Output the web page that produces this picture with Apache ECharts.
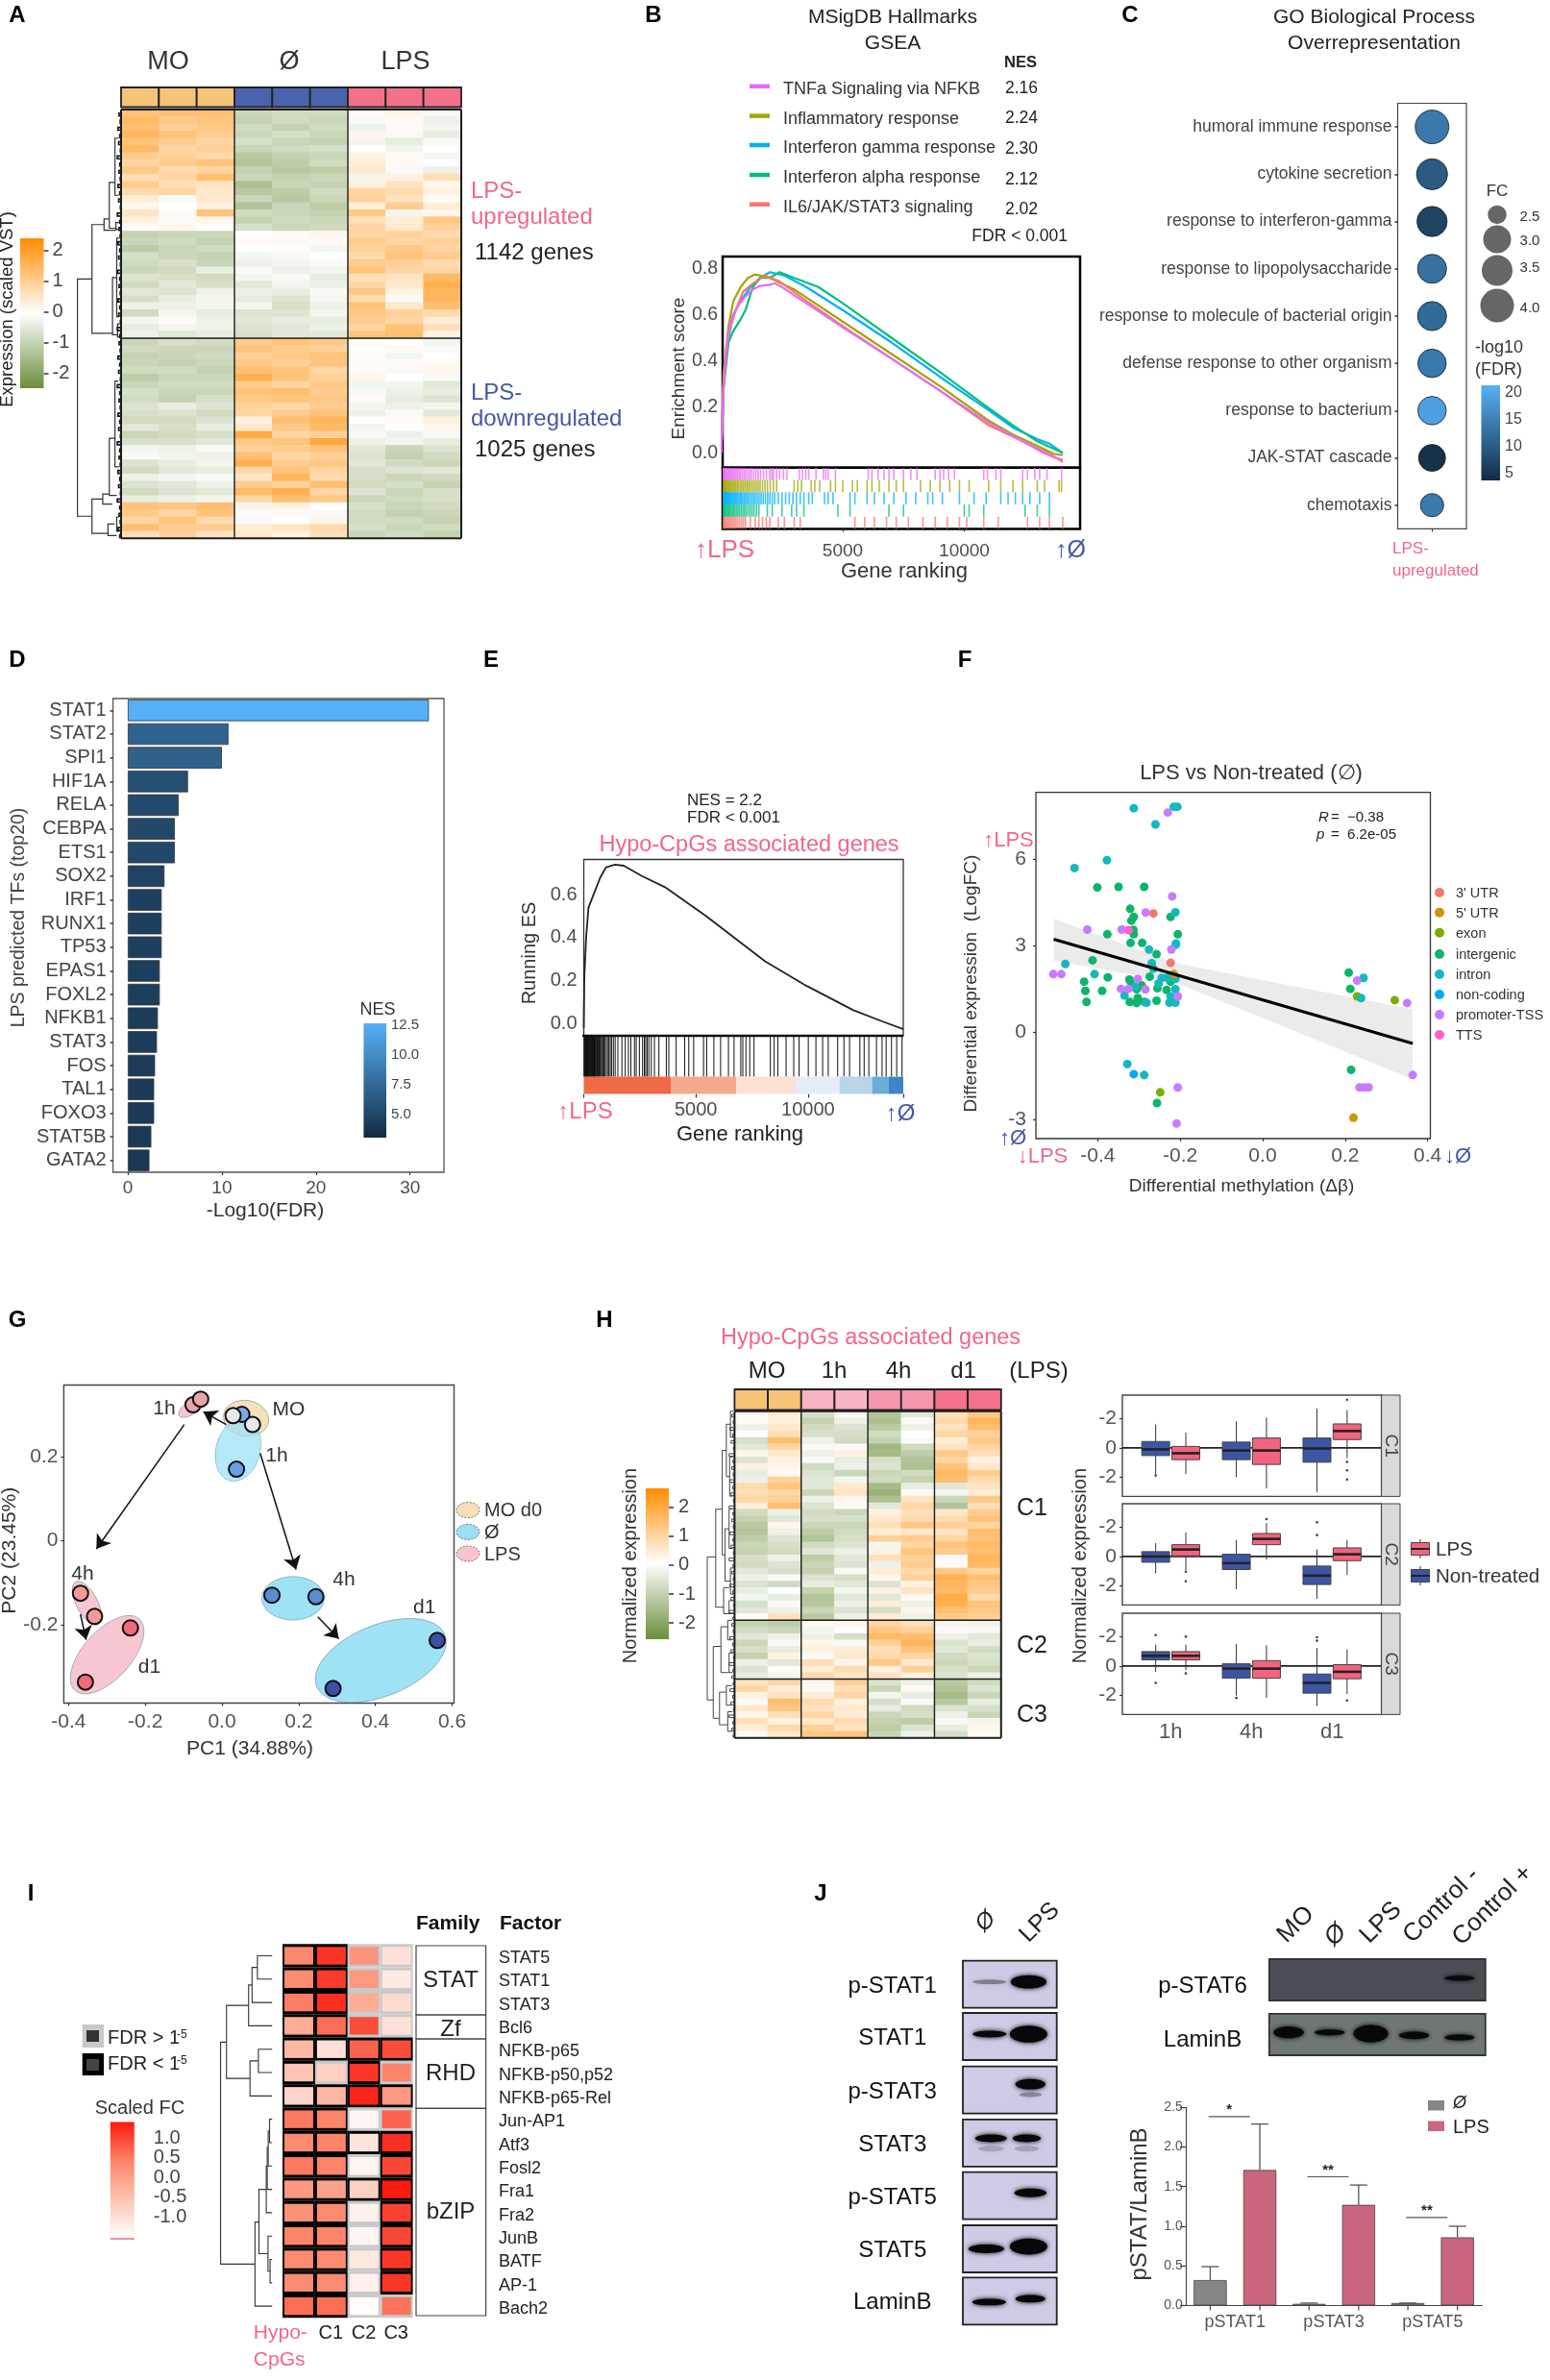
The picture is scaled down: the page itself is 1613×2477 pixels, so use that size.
<!DOCTYPE html>
<html><head><meta charset="utf-8">
<style>html,body{margin:0;padding:0;background:#fff}#c{width:1613px;height:2477px}</style>
<script src="https://cdn.jsdelivr.net/npm/echarts@6/dist/echarts.min.js"></script>
</head><body><div id="c"></div>
<script>
/* ---------- DATA ---------- */
// A: heatmap rows in tenths of scaled VST (MO x3, Ø x3, LPS x3)
const heatA=[
[13,14,14,-9,-8,-8,1,2,-1],[15,12,13,-10,-8,-9,-1,1,-3],[14,10,12,-8,-10,-8,-3,1,-2],[16,13,11,-9,-7,-9,2,-1,-4],
[13,11,9,-7,-9,-10,-2,-4,-1],[15,9,10,-9,-8,-7,0,-2,0],[11,10,8,-12,-10,-9,3,1,-2],[9,11,13,-13,-11,-8,4,1,0],
[12,8,9,-10,-12,-11,5,-1,-3],[7,9,14,-9,-10,-9,-2,3,7],[11,7,6,-14,-9,-10,3,6,2],[8,9,5,-12,-11,-8,9,8,3],
[4,-1,5,-9,-12,-9,10,6,1],[2,0,3,-13,-9,-11,4,11,4],[6,1,13,-8,-9,-10,12,-2,2],[3,-1,2,-10,-8,-9,7,4,12],[1,2,0,-7,-9,-8,9,5,10],
[-10,-9,-9,0,1,2,9,10,8],[-9,-8,-10,1,-1,1,11,9,10],[-11,-9,-8,0,1,-2,10,12,9],[-7,-9,-10,-2,-1,0,8,13,11],
[-8,-7,-9,-3,-2,-1,11,10,8],[-9,-8,-4,-1,-3,-2,13,9,9],[-6,-7,-8,-2,-1,-4,7,6,15],[-8,-5,-7,-5,-2,-3,9,5,17],
[-5,-6,-3,-3,-4,-1,12,3,16],[-7,-4,-2,-4,-6,-2,8,-1,16],[-3,-3,-2,-2,-7,-3,13,5,14],[-8,-2,-4,-6,-6,-2,12,10,8],
[-2,1,-3,-5,-4,-4,11,9,4],[-4,-2,-3,-6,-5,-3,9,13,7],[-3,-5,-4,-7,-5,-5,13,14,3],
[-9,-7,-8,11,13,12,1,0,-2],[-8,-9,-9,13,11,10,0,1,-1],[-10,-9,-8,10,12,13,1,-2,0],[-9,-10,-9,12,10,13,-1,1,1],
[-8,-8,-10,14,13,9,1,-1,2],[-11,-9,-9,17,13,10,2,0,-1],[-9,-8,-8,11,9,12,-2,-2,-5],[-7,-9,-9,13,14,11,-1,-3,-4],
[-8,-10,-7,12,13,12,1,-4,-6],[-6,-4,-6,10,9,11,-2,-3,-2],[-7,-6,-8,9,11,13,-3,-1,-5],[-8,-8,-6,3,14,16,0,1,3],
[-5,-7,-4,5,12,15,-2,0,2],[-9,-8,-7,18,9,10,-1,-3,-1],[-7,-7,-5,12,13,19,-3,-2,-4],[-2,-3,-1,10,11,13,-5,-9,-6],
[-1,-2,-3,14,9,10,-6,-10,-8],[-6,-4,-2,17,11,12,-5,-8,-9],[-8,-5,-4,8,13,9,-7,-6,-5],[-3,-2,-1,6,16,8,-7,-9,-8],
[-6,-5,-3,11,10,14,-8,-7,-10],[-8,-6,-5,15,17,9,-6,-9,-7],[-4,-3,-2,9,14,12,-9,-8,-7],
[13,12,14,-2,3,0,-7,-9,-8],[12,9,13,1,-1,-1,-8,-10,-9],[9,13,8,-1,0,2,-8,-8,-10],[14,11,11,4,6,8,-7,-9,-8],[7,10,6,5,3,7,-9,-8,-10]];
const annotA=['#f5c477','#f5c477','#f5c477','#4a63ad','#4a63ad','#4a63ad','#f3708a','#f3708a','#f3708a'];
const vstTicks=[2,1,0,-1,-2];
// B: curves [rank, ES]
const esTNF=[[0,0],[100,.3],[200,.45],[400,.58],[700,.64],[1000,.68],[1300,.71],[1600,.725],[2000,.73],[2200,.737],[2500,.72],[3500,.65],[5000,.545],[7000,.41],[9000,.27],[11000,.13],[11800,.085],[13200,.003],[13700,-.02],[14050,-.03]];
const esInf=[[0,0],[100,.35],[300,.55],[500,.66],[800,.72],[1100,.76],[1400,.775],[2000,.76],[3000,.71],[5000,.57],[7000,.43],[9000,.29],[11000,.14],[12000,.08],[13000,.03],[13700,-.005],[14050,-.01]];
const esIFg=[[0,0],[100,.3],[300,.5],[500,.6],[800,.66],[1200,.72],[1600,.76],[2000,.785],[2600,.77],[3500,.72],[5000,.62],[7000,.48],[9000,.33],[11000,.185],[12000,.11],[13000,.06],[13500,.04],[14050,.0]];
const esIFa=[[0,0],[100,.28],[300,.48],[500,.53],[800,.58],[1000,.62],[1300,.72],[1600,.76],[2000,.76],[2400,.785],[3000,.76],[4000,.72],[5000,.65],[7000,.5],[9000,.35],[11000,.195],[12000,.12],[13000,.05],[14050,.0]];
const esIL6=[[0,0],[100,.3],[300,.52],[600,.62],[900,.7],[1300,.735],[1800,.77],[2400,.745],[3500,.66],[5000,.55],[7000,.41],[9000,.27],[11000,.12],[12000,.07],[13000,.02],[13600,-.01],[14050,-.04]];
const setNames=['TNFa Signaling via NFKB','Inflammatory response','Interferon gamma response','Interferon alpha response','IL6/JAK/STAT3 signaling'];
const setNES=['2.16','2.24','2.30','2.12','2.02'];
const setColors=['#E76BF3','#A3A500','#00B0F6','#00BF7D','#F8766D'];
const rugTNF=[30,60,90,120,150,180,220,260,300,340,380,420,470,520,570,620,680,740,800,870,940,1010,1090,1170,1250,1340,1430,1520,1620,1740,1860,2000,2080,2150,2280,2400,2560,2700,3220,3350,3480,3600,3900,4200,4300,4400,4700,6050,6200,6450,6700,6900,7100,7500,7800,8050,8800,9000,9150,9350,9600,10800,10950,11300,11500,12400,12600,12900,13100,13400,14000];
const rugInf=[20,50,80,110,140,170,200,240,280,320,360,400,450,500,550,600,660,720,790,850,920,990,1060,1130,1200,1280,1360,1440,1520,1600,1700,1800,1900,2020,2150,2280,3000,3150,3300,3700,3850,4050,4500,4700,5000,5400,5600,6000,6200,6500,6900,7200,7500,8200,8600,9000,9400,9800,10200,11000,11500,12000,12400,13000,13300,13900,14000];
const rugIFg=[15,35,55,75,95,115,135,160,185,210,240,270,300,330,360,390,430,470,510,550,590,630,680,730,780,830,880,940,1000,1060,1120,1190,1260,1330,1400,1480,1560,1640,1730,1820,1910,2000,2100,2200,2350,2500,2650,2800,2950,3100,3250,3400,3600,3750,4250,4400,4600,5300,5500,6000,6300,6700,7100,7600,8000,8500,8700,9100,9800,10400,10900,11500,11800,12100,12400,12700,13100,13500];
const rugIFa=[20,50,80,110,140,170,210,250,290,330,370,420,470,520,570,630,690,750,820,890,960,1030,1110,1190,1270,1350,1450,1550,1900,2100,2500,2900,3100,3400,4800,5300,6900,7500,10000,10200,10800,12500,13000,13500];
const rugIL6=[20,60,100,140,180,230,280,330,380,430,490,550,610,680,760,840,920,1000,1200,1400,1550,1700,1850,2000,2350,2600,3000,3250,5500,5900,6300,6800,7200,7700,8300,8800,9300,9800,10100,10800,11400,12600,13100,13500,14050];
const geneTicks=[5000,10000];
const esTicks=[0,.2,.4,.6,.8];
// C
const goTerms=['humoral immune response','cytokine secretion','response to interferon-gamma','response to lipopolysaccharide','response to molecule of bacterial origin','defense response to other organism','response to bacterium','JAK-STAT cascade','chemotaxis'];
const goFC=[4.0,3.55,3.4,3.2,3.2,3.1,3.1,2.95,2.75];
const goFDR=[14,10,7,13,12,14,19,4.5,14];
const fcLegend=[2.5,3.0,3.5,4.0];
const fdrTicks=[20,15,10,5];
// D
const tfNames=['STAT1','STAT2','SPI1','HIF1A','RELA','CEBPA','ETS1','SOX2','IRF1','RUNX1','TP53','EPAS1','FOXL2','NFKB1','STAT3','FOS','TAL1','FOXO3','STAT5B','GATA2'];
const tfFDR=[32,10.7,10,6.4,5.4,5,5,3.9,3.6,3.6,3.6,3.4,3.4,3.2,3.1,2.9,2.8,2.8,2.5,2.3];
const tfNES=[12.6,7.1,6.9,5.6,5.3,5.2,5.2,4.8,4.6,4.6,4.6,4.5,4.5,4.4,4.4,4.3,4.2,4.2,4.1,4.0];
const nesTicks=[12.5,10,7.5,5];
// E
const esRun=[[0,-.02],[26,.22],[105,.4],[210,.54],[472,.61],[735,.68],[997,.728],[1391,.74],[1785,.735],[2572,.688],[3622,.635],[5459,.5],[8084,.29],[9921,.176],[12021,.062],[13333,.009],[14252,-.026]];
const rugE=[10,30,50,70,90,110,130,150,170,190,210,235,260,285,310,330,350,370,390,410,430,450,470,490,510,540,570,600,630,660,690,720,750,790,830,870,900,930,1000,1060,1120,1180,1240,1320,1400,1520,1700,1850,1990,2100,2260,2340,2480,2620,2700,2760,2830,2900,3010,3150,3350,3680,3790,4120,4500,4680,4900,5340,5480,5800,6100,6450,6700,7000,7090,7230,7400,7590,8320,8490,8650,9020,9360,9600,10010,10350,10650,10900,11320,11600,11850,12310,12500,12710,13050,13300,13480,13720,13950,14190];
const stripEdges=[0,3900,6800,9500,11400,12850,13600,14245];
const stripColors=['#ef6a45','#f4a98d','#fbe0d4','#e6ecf7','#b9d5e8','#6badd6','#3f84c5'];
// F
const mF={"3' UTR":[[-.265,4.12],[-.2233,2.41]],
"5' UTR":[[-.2155,2.02],[.2204,-2.95]],
"exon":[[.2291,1.25],[.3204,1.12],[-.2485,-2.07]],
"intergenic":[[-.401,5.02],[-.3495,5.04],[-.2874,5.04],[-.3214,4.28],[-.3126,4.0],[-.3184,3.87],[-.2233,4.0],[-.3767,3.4],[-.3136,3.55],[-.3126,3.4],[-.3204,3.1],[-.2922,3.1],[-.2058,3.4],[-.2573,2.71],[-.4126,2.5],[-.3757,1.91],[-.433,1.76],[-.43,1.44],[-.3893,1.44],[-.4272,1.06],[-.3233,1.83],[-.32,1.76],[-.2738,1.93],[-.2932,1.63],[-.2553,1.53],[-.3058,1.5],[-.233,1.47],[-.2573,1.1],[-.3223,1.06],[-.3058,1.02],[-.3029,1.19],[-.2864,1.06],[-.2233,1.76],[.2087,2.07],[.2126,1.51],[.2146,-1.29],[-.2563,-2.44]],
"intron":[[-.3126,7.76],[-.2155,7.81],[-.2068,7.81],[-.26,7.2],[-.3777,5.96],[-.4563,5.69],[-.2117,4.16],[-.2107,3.04],[-.21,3.08],[-.2757,2.87],[-.269,2.4],[-.265,2.21],[-.4786,2.37],[-.4078,2.02],[.2447,1.89],[.2388,1.19],[-.3282,-1.09],[-.2874,-1.47],[-.2447,1.89],[-.2117,1.85],[-.2524,1.7],[-.335,1.28],[-.309,1.57],[-.2117,1.5],[-.2233,1.25],[-.2155,1.12],[-.2262,1.03],[-.2117,1.03],[-.2816,1.03],[-.231,1.89]],
"non-coding":[[-.3126,-1.44]],
"promoter-TSS":[[-.2301,7.61],[-.2194,4.71],[-.2835,4.15],[-.4252,3.56],[-.3417,3.56],[-.2214,2.87],[-.5078,2.02],[-.4883,2.02],[-.3029,1.85],[-.3437,1.51],[-.3252,1.51],[-.2845,1.49],[-.2058,1.25],[.2291,1.8],[.3505,1.02],[.3641,-1.47],[.235,-1.9],[.2466,-1.9],[.2573,-1.9],[-.2058,-1.9],[-.2087,-3.15]],
"TTS":[[-.3252,3.54]]};
const annColors=['#F8766D','#CD9600','#7CAE00','#0CB56C','#14B8BF','#00A9FF','#C77CFF','#FF61CC'];
const fitLine=[[-.5068,3.23],[.364,-.38]];
const bandX=[-.5068,-.21,.364], bandUp=[3.93,2.4,.8], bandLo=[2.49,1.72,-1.62];
// G
const ellNames=['MO','Ø 1h','LPS 1h','LPS 4h','LPS d1','Ø 4h','Ø d1'];
const ellCX=[.0627,.0418,-.0786,-.3522,-.2995,.1851,.4139];
const ellCY=[.2916,.2157,.318,-.1488,-.2718,-.1374,-.2855];
const ellA=[.059,.0576,.04,.0627,.1253,.0812,.18];
const ellB=[.0423,.0755,.016,.0252,.0572,.0517,.0847];
const ellRot=[-10,-15,35,-62,48,0,22];
const ellFill=['#f6dfb8','#99e0f5','#f8c3cf','#f8c3cf','#f8c3cf','#99e0f5','#99e0f5'];
const pcaPoints=[[.0517,.3007,'#7ea9e8'],[.0378,.17,'#6a9ee8'],[.0289,.2976,'#e8e8e8'],[.0796,.2764,'#e8e8e8'],[-.0756,.3235,'#e9a6a4'],[-.0557,.337,'#e9a6a4'],[-.369,-.1253,'#f49a96'],[-.3323,-.1807,'#f49a96'],[-.2388,-.208,'#f26a7c'],[-.3562,-.337,'#f26a7c'],[.1303,-.13,'#5b8bd0'],[.2448,-.1336,'#5b8bd0'],[.5612,-.2377,'#3f4fa8'],[.2896,-.3523,'#3f4fa8']];
const pcaArrows=[[[-.0985,.2764],[-.3274,-.0197]],[[.0995,.208],[.193,-.0691]],[[.0109,.2764],[-.0488,.3068]],[[.2498,-.1815],[.3045,-.2339]],[[-.3692,-.1754],[-.3542,-.2361]]];
// H
const heatH=[
[-1,4,-7,-1,-13,-5,7,12],[1,3,-10,-3,-14,-1,8,16],[-3,5,-8,-6,-12,-3,6,14],[0,7,-7,-7,-8,0,9,10],[-7,14,-3,-8,-10,-1,4,12],
[-5,9,-1,-1,-16,-8,6,9],[2,5,-3,3,-15,-11,12,7],[-6,3,-1,-4,-7,-13,9,3],[3,2,-8,-3,-6,-14,13,5],[-4,1,-6,-9,-9,-8,15,11],
[-3,10,-5,-2,-8,-10,14,8],[8,13,-5,5,-15,-4,-5,6],[7,9,-9,6,-17,1,-2,4],[9,10,-3,2,-14,6,-9,12],[4,14,-6,-1,-5,9,-13,7],
[-8,-3,-8,-9,3,7,5,11],[-10,-5,-7,-7,5,8,8,13],[-12,2,-9,-9,7,12,10,9],[-13,-3,-11,-8,4,5,6,14],[-11,-6,-13,-7,10,11,9,13],
[-9,-7,-8,-6,-2,9,13,15],[-10,-8,-5,-3,3,13,11,14],[-7,-3,-11,-5,7,10,-1,16],[-8,-6,-9,-6,-3,11,1,15],[-5,-7,-10,-1,4,8,12,9],
[-3,-1,-6,-7,2,10,17,14],[-6,-8,-4,-5,-6,3,16,12],[-4,0,-10,-2,3,6,15,11],[-2,-4,-13,-5,-5,1,18,8],[-7,1,-12,-3,4,-3,17,13],
[-5,-3,-9,-6,-7,2,14,12],[1,7,-12,-3,4,-3,12,10],
[-10,-11,1,2,9,7,-2,-3],[-8,-9,-2,0,12,10,1,-1],[-5,-3,-3,-7,15,14,-3,-5],[-9,-1,2,-1,10,16,-6,-4],[-7,-4,3,4,7,13,-5,-8],
[-10,3,-1,5,8,9,-8,-6],[-3,-5,7,2,12,5,-9,-7],[-6,1,4,8,3,10,-7,-9],[-4,-2,8,5,6,3,-6,-3],
[6,9,2,10,-6,-3,-12,-8],[9,4,-1,7,-9,1,-13,-6],[3,6,4,9,-2,-4,-15,-9],[-1,14,8,3,-7,-1,-12,-4],[5,12,6,5,-4,-8,-6,-7],
[2,7,9,4,-9,-7,-3,-9],[7,3,5,8,-10,-11,-1,-2],[4,8,10,6,-11,-6,-4,2],[1,5,12,13,-9,-3,-7,1]];
const annotH=['#f5c477','#f5c477','#f9b3c1','#f9b3c1','#f696ab','#f696ab','#f3718a','#f3718a'];
const boxC1=[[-1.8,-.53,-.1,.44,1.6],[-1.8,-.81,-.37,.1,1.05],[-2.02,-.81,-.18,.4,1.82],[-2.79,-1.14,-.18,.68,2.09],[-3.05,-.99,-.04,.68,2.7],[-.7,.57,1.16,1.65,2.6]];
const boxC2=[[-1.16,-.4,0,.33,.92],[-.95,.04,.48,.81,1.65],[-2.26,-.9,-.46,.15,1.14],[-.22,.81,1.21,1.58,2.3],[-2.92,-1.93,-1.32,-.66,.48],[-1.27,-.29,.15,.59,1.14]];
const boxC3=[[-.4,.42,.7,.99,1.47],[-.29,.42,.7,.99,1.47],[-2.04,-.84,-.18,.15,1.52],[-2.2,-.84,-.18,.37,1.43],[-2.75,-1.87,-1.16,-.55,1.25],[-1.93,-.88,-.4,.09,1.14]];
const outC1=[[0,-1.9],[5,3.32],[5,-.97],[5,-1.54],[5,-2.18]];
const outC2=[[1,-1.05],[1,-1.71],[3,2.57],[4,2.35],[4,1.47]];
const outC3=[[0,2.13],[0,-1.16],[1,2.02],[1,-.51],[2,-2.2],[4,1.98],[4,1.74],[5,-2.37]];
const boxPos=[.813,1.187,1.813,2.187,2.813,3.187];
const boxColors=['#3d55a5','#f2637f','#3d55a5','#f2637f','#3d55a5','#f2637f'];
const timeCats=['1h','4h','d1'];
// I
const iFactors=['STAT5','STAT1','STAT3','Bcl6','NFKB-p65','NFKB-p50,p52','NFKB-p65-Rel','Jun-AP1','Atf3','Fosl2','Fra1','Fra2','JunB','BATF','AP-1','Bach2'];
const iFC=[[.45,1.2,.25,-1.0],[.4,1.15,.2,-1.15],[.55,1.25,-.1,-.9],[-.1,.7,1.0,-1.0],[-.3,-1.0,.8,1.0],[-.5,-.7,1.2,.5],[-.8,-.3,1.35,.2],[.6,.5,-1.4,.8],[.4,.5,-1.05,1.25],[.6,.5,-1.35,1.05],[.2,.05,-.7,1.45],[.3,.4,-1.3,1.1],[.5,.5,-1.4,1.05],[.4,.4,-1.15,1.2],[.4,.4,-1.3,1.2],[.7,.7,-1.5,.65]];
const iSig=[[1,1,0,0],[1,1,0,0],[1,1,0,0],[1,1,0,0],[1,1,1,1],[1,0,1,0],[1,1,1,1],[1,1,0,0],[1,1,1,1],[1,1,0,1],[1,1,1,1],[1,1,0,1],[1,1,0,1],[1,1,0,1],[1,1,0,1],[1,1,0,0]];
const iDendro=[[.286,0,1,0,0],[.39,.5,2,.286,0],[.457,1.25,3,.39,0],[.267,4,5,0,0],[.43,4.5,6,.267,0],[.886,2.125,5.25,.457,.43],[.05,7,8,0,0],[.076,7.5,9,.05,0],[.095,8.2,10,.076,0],[.114,9,11,.095,0],[.04,13,14,0,0],[.08,12,13.5,0,.04],[.257,10,12.75,.114,.08],[.333,11.4,15,.257,0],[1,3.7,13.2,.886,.333]];
const fcTicks=[1,.5,0,-.5,-1];
// J
const blotNames=['p-STAT1','STAT1','p-STAT3','STAT3','p-STAT5','STAT5','LaminB'];
const blotTops=[2040.6,2095,2150.6,2205.9,2260.7,2316,2370.4];
const blotBands=[[[.285,.45,.18,.05,.35],[.70,.45,.19,.14,1]],[[.285,.45,.18,.07,1],[.7,.45,.2,.18,1]],[[.72,.38,.16,.11,1],[.72,.6,.12,.05,.3]],[[.3,.4,.17,.08,1],[.68,.4,.15,.08,1],[.3,.62,.14,.06,.18],[.68,.62,.13,.06,.18]],[[.72,.44,.17,.09,1]],[[.25,.5,.19,.09,1],[.7,.45,.2,.17,1]],[[.28,.52,.18,.07,1],[.72,.45,.16,.08,1]]];
const blot6=[[.88,.46,.07,.06,1]];
const blotLam=[[.09,.45,.07,.14,1],[.28,.45,.07,.07,1],[.47,.48,.08,.21,1],[.67,.52,.07,.09,1],[.88,.57,.07,.07,1]];
const pCats=['pSTAT1','pSTAT3','pSTAT5'];
const pNT=[.32,.02,.03], pLPS=[1.71,1.27,.86];
const pNTtop=[.49,.03,.03], pLPStop=[2.29,1.52,1.0];
const sigLevel=[2.384,1.625,1.11], sigText=['*','**','**'];
const pTicks=[0,.5,1,1.5,2,2.5];

/* ---------- helpers ---------- */
const FF='"Liberation Sans"';
const PINK='#f2668a', BLUE='#4458a8', AX='#4d4d4d';
const grids=[],xAxes=[],yAxes=[],series=[],gfx=[],vmaps=[];
function addGrid(l,t,w,h,xa,ya,g){
  const i=grids.length;
  grids.push(Object.assign({left:l,top:t,width:w,height:h,containLabel:false,outerBoundsMode:'none'},g||{}));
  xAxes.push(Object.assign({gridIndex:i,splitLine:{show:false}},xa));
  yAxes.push(Object.assign({gridIndex:i,splitLine:{show:false}},ya));
  return i;
}
function HID(min,max,inv){return {type:'value',min,max,show:false,inverse:!!inv};}
function VAX(min,max,ticks,labels,size,opt){
  opt=opt||{};
  return Object.assign({type:'value',min,max,
    axisLine:{show:false,onZero:false},
    axisTick:{show:opt.tick!==false,customValues:ticks,length:opt.tlen||3,lineStyle:{color:opt.tcolor||'#333',width:1.2}},
    axisLabel:{show:true,customValues:ticks,fontFamily:FF,fontSize:size,color:opt.color||AX,margin:opt.margin||5,
      formatter:v=>{let k=-1,b=1e9;ticks.forEach((t,i)=>{if(Math.abs(t-v)<b){b=Math.abs(t-v);k=i;}});return labels[k];}}},opt.extra||{});
}
function custom(g,n,fn,o){
  series.push(Object.assign({type:'custom',coordinateSystem:'cartesian2d',xAxisIndex:g,yAxisIndex:g,
    data:Array.from({length:n},()=>[0,0]),silent:true,animation:false,z:3,
    renderItem:(p,api)=>fn(p.dataIndex,api,p.coordSys)},o||{}));
}
function T(text,x,y,o){
  o=o||{};
  const sz=o.size||18, dy=o.rot?0:sz*.06;
  gfx.push({type:'text',x,y:y+dy,rotation:(o.rot||0)*Math.PI/180,z:100,silent:true,
    style:{text,font:(o.italic?'italic ':'')+(o.bold?'bold ':'')+sz+'px '+FF,fill:o.color||'#222',
      align:o.align||'center',textAlign:o.align||'center',verticalAlign:'middle',textVerticalAlign:'middle'}});
}
function R(x,y,w,h,fill,stroke,lw){gfx.push({type:'rect',z:50,silent:true,shape:{x,y,width:w,height:h},style:{fill:fill||'none',stroke:stroke||'none',lineWidth:lw||1}});}
function L(x1,y1,x2,y2,c,lw){gfx.push({type:'line',z:50,silent:true,shape:{x1,y1,x2,y2},style:{stroke:c||'#333',lineWidth:lw||1}});}
function hex(c){return [1,3,5].map(i=>parseInt(c.substr(i,2),16));}
function scale(vals,cols){return v=>{
  if(v<=vals[0])return cols[0]; const n=vals.length-1; if(v>=vals[n])return cols[n];
  let i=0; while(v>vals[i+1])i++;
  const t=(v-vals[i])/(vals[i+1]-vals[i]),a=hex(cols[i]),b=hex(cols[i+1]);
  return 'rgb('+a.map((x,k)=>Math.round(x+(b[k]-x)*t)).join(',')+')';};}
function colorbar(l,t,w,h,min,max,grad,ticks,labels,o){
  o=o||{};
  const g=addGrid(l,t,w,h,HID(0,1),Object.assign(VAX(min,max,ticks,labels,o.size||20,{tlen:o.tlen||4,tcolor:o.tcolor||'#333',color:o.color||'#444',margin:o.margin||8,extra:{position:'right'}}),
   {axisTick:{show:true,inside:!!o.inside,customValues:ticks,length:o.tlen||4,lineStyle:{color:o.tcolor||'#333',width:1.5}}}));
  custom(g,1,(i,api,c)=>({type:'rect',shape:{x:c.x,y:c.y,width:c.width,height:c.height},
    style:{fill:new echarts.graphic.LinearGradient(0,0,0,1,grad.map((col,k)=>({offset:k/(grad.length-1),color:col})))}}));
  return g;
}
function heat(l,t,w,h,rows,stops,colBreaks,rowBreaks,lw){
  const nc=rows[0].length,nr=rows.length;
  const g=addGrid(l,t,w,h,{type:'category',show:false,data:rows[0].map((_,i)=>i)},{type:'category',show:false,inverse:true,data:rows.map((_,i)=>i)});
  series.push({type:'heatmap',xAxisIndex:g,yAxisIndex:g,animation:false,silent:true,z:2,data:rows.flatMap((r,i)=>r.map((v,j)=>[j,i,v/10]))});
  vmaps.push({show:false,seriesIndex:series.length-1,min:-2.5,max:2.5,inRange:{color:stops}});
  const f=addGrid(l,t,w,h,HID(0,nc),HID(0,nr,true));
  const br=colBreaks.map(v=>[v,0,v,nr]).concat(rowBreaks.map(v=>[0,v,nc,v])).concat([[0,0,nc,0],[0,nr,nc,nr],[0,0,0,nr],[nc,0,nc,nr]]);
  custom(f,br.length,(i,api)=>{const d=br[i],a=api.coord([d[0],d[1]]),b=api.coord([d[2],d[3]]);
    return {type:'line',shape:{x1:a[0],y1:a[1],x2:b[0],y2:b[1]},style:{stroke:'#1c1c1c',lineWidth:i>=br.length-4?2:lw||1.4}};},{z:5});
}
function annot(l,t,w,h,cols){
  const g=addGrid(l,t,w,h,HID(0,cols.length),HID(0,1));
  custom(g,cols.length,(i,api)=>{const a=api.coord([i,1]),b=api.coord([i+1,0]);
    return {type:'rect',shape:{x:a[0],y:a[1],width:b[0]-a[0],height:b[1]-a[1]},style:{fill:cols[i],stroke:'#222',lineWidth:1.8}};});
}
function dendro(l,t,w,h,ymax,merges,lw,color){
  const g=addGrid(l,t,w,h,{type:'value',min:0,max:1,show:false,inverse:true},HID(0,ymax,true));
  custom(g,merges.length,(i,api)=>{const d=merges[i];
    const p=[[d[3],d[1]],[d[0],d[1]],[d[0],d[2]],[d[4],d[2]]].map(q=>api.coord(q));
    return {type:'polyline',shape:{points:p},style:{fill:'none',stroke:color||'#333',lineWidth:lw||1}};});
}
function blot(l,t,w,h,bg,bands,border){
  const g=addGrid(l,t,w,h,HID(0,1),HID(0,1,true));
  custom(g,bands.length+1,(i,api,c)=>{
    if(i===0)return {type:'rect',shape:{x:c.x,y:c.y,width:c.width,height:c.height},style:{fill:bg}};
    const d=bands[i-1],p=api.coord([d[0],d[1]]),s=api.size([d[2],d[3]]);
    return {type:'ellipse',shape:{cx:p[0],cy:p[1],rx:s[0],ry:s[1]},style:{fill:'rgba(8,8,10,'+d[4]+')',shadowBlur:5,shadowColor:'rgba(0,0,0,'+d[4]+')'}};
  },{clip:true});
  R(l,t,w,h,null,border||'#222',1.8);
}
const vstGrad=['#ff8c00','#ffffff','#6b8e3a'];
const vstStops=['#6b8e3a','#ffffff','#ff8c00'];

/* ---------- panel letters ---------- */
[['A',18,15],['B',680,15],['C',1176,15],['D',18,686],['E',511,686],['F',1004,686],['G',18,1373],['H',629,1373],['I',32,1970],['J',854,1970]]
 .forEach(a=>T(a[0],a[1],a[2],{size:24,bold:true,color:'#000'}));

/* ---------- A ---------- */
annot(126,91,354,20.5,annotA);
heat(126,114,354,446.3,heatA,vstStops,[3,6],[32],1.4);
colorbar(21,248,24.5,156,-2.47,2.4,vstGrad,vstTicks,vstTicks.map(String),{size:20,margin:9,tlen:5});
T('Expression (scaled VST)',8,322,{rot:90,size:18.5});
T('MO',175,63,{size:27,color:'#333'});T('Ø',301,63,{size:27,color:'#333'});T('LPS',422,63,{size:27,color:'#333'});
T('LPS-',490,198,{size:24,color:PINK,align:'left'});T('upregulated',490,225,{size:24,color:PINK,align:'left'});
T('1142 genes',494,262,{size:24,align:'left'});
T('LPS-',490,408,{size:24,color:BLUE,align:'left'});T('downregulated',490,435,{size:24,color:BLUE,align:'left'});
T('1025 genes',494,467,{size:24,align:'left'});
const dendA=[[1,23.7,56.9,.667,.667],[.667,16.1,31.3,.39,.196],[.667,54.5,59.3,.42,.3],[.39,15.3,16.9,.27,.12],[.27,10.2,16.6,.14,.1],[.14,4,12,.05,.05],[.196,23.5,31.5,.1,.08],[.1,18,29,.04,.05],[.42,53.8,55.2,.27,.2],[.27,46,54,.14,.1],[.14,38,50,.06,.05],[.3,58,59.6,.15,.1],[.12,15.8,16.8,.05,.04],[.08,30,31.8,.03,.03],[.1,57,59,.04,.04]];
dendro(80.6,114,45.4,446.3,60,dendA,1.2,'#333');
const combA=[];
for(let r=0;r<60;r++)combA.push([[.045,.02,.07,.03,.055,.015,.085,.03][r%8],r+.5,r+.9,0,0]);
dendro(80.6,114,45.4,446.3,60,combA,1.6,'#111');

/* ---------- B ---------- */
T('MSigDB Hallmarks',929,17,{size:21});T('GSEA',929,43.5,{size:21});
T('NES',1062,64,{size:16.5,bold:true});
[89.8,120.6,151,182,212.7].forEach((y,i)=>{
  L(780,y,801,y,setColors[i],4.5);
  T(setNames[i],815,y+2,{size:18,align:'left',color:'#333'});
  T(setNES[i],1063,y+1+i*.9,{size:17.5,color:'#222'});
});
T('FDR < 0.001',1111,245,{size:17.5,align:'right'});
const gB=addGrid(752,267,372,219.8,HID(59,14763),VAX(-.0647,.8526,esTicks,['0.0','0.2','0.4','0.6','0.8'],19.5,{tick:false,margin:5}),{show:true,borderColor:'#000',borderWidth:2.5});
[esTNF,esInf,esIFg,esIFa,esIL6].forEach((d,i)=>series.push({type:'line',xAxisIndex:gB,yAxisIndex:gB,data:d,showSymbol:false,smooth:false,animation:false,silent:true,z:[5,3,2,2,4][i],clip:false,lineStyle:{color:setColors[i],width:2.2}}));
const gBr=addGrid(752,486.8,372,63.6,VAX(59,14763,geneTicks,['5000','10000'],19,{tlen:3,margin:14}),HID(0,5,true),{show:true,borderColor:'#000',borderWidth:2.5});
[rugTNF,rugInf,rugIFg,rugIFa,rugIL6].forEach((arr,row)=>custom(gBr,arr.length,(i,api)=>{
  const a=api.coord([arr[i],row]),b=api.coord([arr[i],row+1]);
  return {type:'line',shape:{x1:a[0],y1:a[1],x2:b[0],y2:b[1]},style:{stroke:setColors[row],lineWidth:1.6,opacity:.75}};},{clip:true}));
T('↑LPS',754,571,{size:26,color:PINK});T('↑Ø',1114,572,{size:25,color:BLUE});
T('Gene ranking',941,594,{size:22,color:'#333'});
T('Enrichment score',707,383.5,{size:19,rot:90,color:'#333'});

/* ---------- C ---------- */
T('GO Biological Process',1430,17,{size:21});T('Overrepresentation',1430,43.5,{size:21});
const fdrCol=scale([3.75,21.4],['#132B43','#56B1F7']);
const sizeOf=v=>{const xs=fcLegend,ys=[19.5,29,32,35];if(v<=xs[0])return ys[0];for(let i=0;i<3;i++)if(v<=xs[i+1])return ys[i]+(ys[i+1]-ys[i])*(v-xs[i])/(xs[i+1]-xs[i]);return ys[3];};
const gC=addGrid(1454.5,107.5,71.5,442.9,
 {type:'category',data:['LPS-upregulated'],axisLine:{show:false,onZero:false},axisTick:{show:true,alignWithLabel:true,length:3,lineStyle:{color:'#333'}},axisLabel:{show:false}},
 {type:'category',data:goTerms,inverse:true,axisLine:{show:false,onZero:false},axisTick:{show:true,alignWithLabel:true,length:3,lineStyle:{color:'#333',width:1.5}},axisLabel:{interval:0,fontFamily:FF,fontSize:17.5,color:'#444',margin:6}},
 {show:true,borderColor:'#444',borderWidth:1.2});
series.push({type:'scatter',xAxisIndex:gC,yAxisIndex:gC,animation:false,silent:true,z:3,
 data:goTerms.map((t,i)=>({value:['LPS-upregulated',t],symbolSize:sizeOf(goFC[i]),itemStyle:{color:fdrCol(goFDR[i]),borderColor:'#1a1a1a',borderWidth:.8,opacity:1}}))});
T('LPS-',1449,570.6,{size:17,color:PINK,align:'left'});T('upregulated',1449,593,{size:17,color:PINK,align:'left'});
T('FC',1558,198,{size:17,color:'#333'});
const gFC=addGrid(1535,210,46,125,HID(0,1),{type:'value',min:0,max:125,show:false,inverse:true});
const fcLegY=[13.4,39,71.5,108];
custom(gFC,4,(i,api)=>{const p=api.coord([.5,fcLegY[i]]);return {type:'circle',shape:{cx:p[0],cy:p[1],r:sizeOf(fcLegend[i])/2},style:{fill:'#666'}};});
[225,250,278,319.5].forEach((y,i)=>T(fcLegend[i].toFixed(1),1592,y,{size:15,color:'#333'}));
T('-log10',1535,360.6,{size:18,align:'left',color:'#333'});T('(FDR)',1535,383.5,{size:18,align:'left',color:'#333'});
colorbar(1541.5,401,19.5,99,3.75,21.4,['#56B1F7','#132B43'],fdrTicks,fdrTicks.map(String),{size:16,inside:true,tcolor:'#fff',tlen:4,margin:5});

/* ---------- D ---------- */
const nesCol=scale([3.06,12.66],['#132B43','#56B1F7']);
const gD=addGrid(117.6,727,344.4,493,
 VAX(-1.57,33.6,[0,10,20,30],['0','10','20','30'],19,{tlen:3,margin:7,extra:{}}),
 {type:'category',data:tfNames,inverse:true,axisLine:{show:false,onZero:false},axisTick:{show:true,alignWithLabel:true,interval:0,length:3,lineStyle:{color:'#333',width:1.5}},axisLabel:{interval:0,fontFamily:FF,fontSize:20,color:'#444',margin:7}},
 {show:true,borderColor:'#555',borderWidth:1.3});
series.push({type:'bar',xAxisIndex:gD,yAxisIndex:gD,barWidth:22.5,animation:false,silent:true,
 data:tfFDR.map((v,i)=>({value:v,itemStyle:{color:nesCol(tfNES[i]),borderColor:'#333',borderWidth:.8}}))});
T('LPS predicted TFs (top20)',20,955,{rot:90,size:19.5,color:'#444'});
T('-Log10(FDR)',276,1259,{size:21,color:'#333'});
T('NES',393,1049.5,{size:18,color:'#333'});
colorbar(378.4,1065,23.6,119,3.06,12.66,['#56B1F7','#132B43'],nesTicks,['12.5','10.0','7.5','5.0'],{size:15,inside:true,tcolor:'#fff',tlen:4,margin:5});

/* ---------- E ---------- */
T('NES = 2.2',715,832,{size:17,align:'left'});T('FDR < 0.001',715,850,{size:17,align:'left'});
T('Hypo-CpGs associated genes',779.5,878,{size:23.5,color:PINK});
const gE=addGrid(607.5,894.5,332.5,183.5,HID(0,14245),VAX(-.057,.764,[0,.2,.4,.6],['0.0','0.2','0.4','0.6'],20,{tick:false,margin:7}),{show:true,borderColor:'#333',borderWidth:1.3});
series.push({type:'line',xAxisIndex:gE,yAxisIndex:gE,data:esRun,showSymbol:false,animation:false,silent:true,lineStyle:{color:'#222',width:1.8}});
const gEr=addGrid(607.5,1078,332.5,60.5,VAX(0,14245,[0,5000,10000,14245],['','5000','10000',''],20,{tlen:4,margin:7}),HID(0,1));
custom(gEr,rugE.length,(i,api)=>{const a=api.coord([rugE[i],.296]),b=api.coord([rugE[i],1]);
  return {type:'line',shape:{x1:a[0],y1:a[1],x2:b[0],y2:b[1]},style:{stroke:'#111',lineWidth:1}};});
custom(gEr,stripColors.length,(i,api)=>{const a=api.coord([stripEdges[i],.296]),b=api.coord([stripEdges[i+1],0]);
  return {type:'rect',shape:{x:a[0],y:a[1],width:b[0]-a[0],height:b[1]-a[1]},style:{fill:stripColors[i]}};});
L(606,1078,940,1078,'#111',2.5);
T('Running ES',551,992,{rot:90,size:20,color:'#333'});
T('↑LPS',609,1156,{size:24,color:PINK});T('↑Ø',937,1158,{size:24,color:BLUE});
T('Gene ranking',770,1180,{size:22,color:'#222'});

/* ---------- F ---------- */
T('LPS vs Non-treated (∅)',1302,803.5,{size:22,color:'#333'});
const gF=addGrid(1078,824.6,410.5,360.4,
 VAX(-.55,.4068,[-.4,-.2,0,.2,.4],['-0.4','-0.2','0.0','0.2','0.4'],21,{tlen:3,margin:8,color:'#555'}),
 VAX(-3.67,8.31,[-3,0,3,6],['-3','0','3','6'],21,{tlen:3,margin:10,color:'#555'}),
 {show:true,borderColor:'#333',borderWidth:1.3});
custom(gF,1,(i,api)=>{const up=bandX.map((x,k)=>api.coord([x,bandUp[k]])),lo=bandX.map((x,k)=>api.coord([x,bandLo[k]])).reverse();
  return {type:'polygon',shape:{points:up.concat(lo)},style:{fill:'#ebebeb'}};},{z:1});
Object.keys(mF).forEach((k,i)=>series.push({type:'scatter',name:k,xAxisIndex:gF,yAxisIndex:gF,data:mF[k],symbolSize:9,animation:false,silent:true,z:[3,6,3,3,3,3,3,3][i],itemStyle:{color:annColors[i],opacity:1}}));
series.push({type:'line',xAxisIndex:gF,yAxisIndex:gF,data:fitLine,showSymbol:false,animation:false,silent:true,z:7,lineStyle:{color:'#000',width:3.2}});
T('R',1372,850,{size:15,italic:true,align:'left'});T('=  −0.38',1385,850,{size:15,align:'left'});
T('p',1370,868,{size:15,italic:true,align:'left'});T('=  6.2e-05',1385,868,{size:15,align:'left'});
const gFl=addGrid(1490,919,16,170,HID(0,1),HID(0,170,true));
const annY=[10,30.7,51.8,74,95,116,137,158];
custom(gFl,8,(i,api)=>{const p=api.coord([.5,annY[i]]);return {type:'circle',shape:{cx:p[0],cy:p[1],r:5},style:{fill:annColors[i]}};});
Object.keys(mF).forEach((k,i)=>T(k,1515,919+annY[i],{size:14.5,align:'left',color:'#333'}));
T('↑LPS',1049.5,874,{size:22,color:PINK});T('↑Ø',1054,1184,{size:22,color:BLUE});
T('↓LPS',1085,1203,{size:22,color:PINK});T('↓Ø',1517,1203,{size:22,color:BLUE});
T('Differential methylation (Δβ)',1292,1234,{size:19,color:'#333'});
T('Differential expression  (LogFC)',1011,1023.6,{rot:90,size:19,color:'#333'});

/* ---------- G ---------- */
const gG=addGrid(66.4,1441.5,406.1,331,
 VAX(-.4125,.605,[-.4,-.2,0,.2,.4,.6],['-0.4','-0.2','0.0','0.2','0.4','0.6'],21,{tlen:3,margin:9,color:'#555'}),
 VAX(-.387,.3705,[-.2,0,.2],['-0.2','0','0.2'],21,{tlen:3,margin:6,color:'#555'}),
 {show:true,borderColor:'#444',borderWidth:1.4});
custom(gG,ellCX.length,(i,api)=>{const p=api.coord([ellCX[i],ellCY[i]]),s=api.size([ellA[i],ellB[i]]);
  return {type:'ellipse',shape:{cx:p[0],cy:p[1],rx:s[0],ry:s[1]},rotation:ellRot[i]*Math.PI/180,originX:p[0],originY:p[1],
    style:{fill:ellFill[i],stroke:'#7a9aa5',lineWidth:.7,opacity:i==1?.72:.95}};},{clip:true,z:1});
series.push({type:'lines',coordinateSystem:'cartesian2d',xAxisIndex:gG,yAxisIndex:gG,animation:false,silent:true,z:3,
 symbol:['none','arrow'],symbolSize:[0,14],lineStyle:{color:'#111',width:1.5,opacity:1,curveness:0},data:pcaArrows.map(c=>({coords:c}))});
series.push({type:'scatter',xAxisIndex:gG,yAxisIndex:gG,animation:false,silent:true,z:4,symbolSize:16,
 data:pcaPoints.map(p=>({value:[p[0],p[1]],itemStyle:{color:p[2],borderColor:'#111',borderWidth:2,opacity:1}}))});
[['1h',171,1465],['MO',300.5,1466],['1h',288,1514],['4h',86,1637],['4h',358,1642.5],['d1',441.7,1672],['d1',155.4,1734]].forEach(a=>T(a[0],a[1],a[2],{size:21,color:'#333'}));
[[1571.6,'#f6dfb8','MO d0'],[1594.4,'#99e0f5','Ø'],[1617,'#f8c3cf','LPS']].forEach(a=>{
  gfx.push({type:'ellipse',z:50,silent:true,shape:{cx:487,cy:a[0],rx:12,ry:8},style:{fill:a[1],stroke:'#555',lineWidth:.8,lineDash:[2,1.5]}});
  T(a[2],504,a[0],{size:20,align:'left',color:'#333'});});
T('PC1 (34.88%)',260,1818.7,{size:21,color:'#333'});
T('PC2 (23.45%)',10,1613.7,{rot:90,size:21,color:'#333'});

/* ---------- H ---------- */
T('Hypo-CpGs associated genes',906,1391.5,{size:23.5,color:PINK});
[['MO',798],['1h',868],['4h',935],['d1',1002.5],['(LPS)',1081]].forEach(a=>T(a[0],a[1],1426,{size:24,color:'#222'}));
annot(764.4,1446,277.4,21.4,annotH);
heat(764.4,1468.7,277.4,340,heatH,vstStops,[2,4,6],[32,41],1.4);
colorbar(672,1549,24,157,-2.56,2.65,vstGrad,vstTicks,vstTicks.map(String),{size:20,margin:10,tlen:5});
T('Normalized expression',656.7,1629.6,{rot:90,size:20,color:'#333'});
T('C1',1058,1569,{size:25,align:'left',color:'#222'});T('C2',1058,1712,{size:25,align:'left',color:'#222'});T('C3',1058,1783.5,{size:25,align:'left',color:'#222'});
const dendH=[[1,22.3,44.2,.69,.78],[.69,15,30,.45,.4],[.45,6,22,.3,.35],[.3,2,10,.15,.18],[.35,18,26,.2,.15],[.4,27,31,.2,.1],[.15,0,4,.05,.05],[.18,7,13,.07,.06],[.2,15,21,.08,.07],[.15,24,28,.06,.05],[.2,29,31,.05,.04],[.78,36,47,.5,.55],[.5,33,40,.25,.2],[.55,43,48,.3,.25],[.25,32,35,.08,.1],[.2,37,40,.06,.07],[.3,42,45,.1,.1],[.25,46,49,.08,.07]];
dendro(736,1468.7,28.4,340,50,dendH,1,'#444');
const combH=[];for(let r=0;r<50;r++)combH.push([[.1,.05,.17,.07,.13,.04,.2,.06][r%8],r+.5,r+.9,0,0]);
dendro(736,1468.7,28.4,340,50,combH,1,'#444');
[[1452,boxC1,outC1,'C1'],[1565,boxC2,outC2,'C2'],[1679,boxC3,outC3,'C3']].forEach((f,fi)=>{
  const g=addGrid(1168,f[0],269.6,105.4,
    fi==2?VAX(.4,3.613,[1,2,3],timeCats,22,{tick:false,margin:8,color:'#555'}):HID(.4,3.613),
    VAX(-3.34,3.63,[-2,0,2],['-2','0','-2'],21,{tlen:3,margin:6,color:'#555'}),
    {show:true,borderColor:'#444',borderWidth:1.4});
  custom(g,1,(i,api)=>{const a=api.coord([.4,0]),b=api.coord([3.613,0]);return {type:'line',shape:{x1:a[0],y1:a[1],x2:b[0],y2:b[1]},style:{stroke:'#222',lineWidth:1.6}};},{z:2});
  custom(g,6,(i,api)=>{const d=f[1][i],x=boxPos[i],pos=v=>api.coord([x,v]),W=14.5;
    const mn=pos(d[0]),q1=pos(d[1]),md=pos(d[2]),q3=pos(d[3]),mx=pos(d[4]);
    return {type:'group',children:[
      {type:'line',shape:{x1:mn[0],y1:mn[1],x2:mx[0],y2:mx[1]},style:{stroke:'#333',lineWidth:1}},
      {type:'rect',shape:{x:mn[0]-W,y:q3[1],width:2*W,height:q1[1]-q3[1]},style:{fill:boxColors[i],stroke:'#444',lineWidth:1}},
      {type:'line',shape:{x1:mn[0]-W,y1:md[1],x2:mn[0]+W,y2:md[1]},style:{stroke:'#222',lineWidth:2.6}}]};},{z:4});
  series.push({type:'scatter',xAxisIndex:g,yAxisIndex:g,animation:false,silent:true,z:4,symbolSize:2.6,itemStyle:{color:'#111'},data:f[2].map(o=>[boxPos[o[0]],o[1]])});
  R(1437.6,f[0],19.4,105.4,'#d9d9d9','#444',1);
  T(f[3],1447.3,f[0]+52.7,{rot:-90,size:19,color:'#444'});
});
T('Normalized expression',1124.8,1629.6,{rot:90,size:20,color:'#333'});
[[1612,'#f2637f','LPS'],[1640,'#3d55a5','Non-treated']].forEach(a=>{
  L(1478,a[0]-10,1478,a[0]+10,'#333',1);R(1468.5,a[0]-6.5,19,13,a[1],'#444',1);L(1468.5,a[0],1487.5,a[0],'#222',2);
  T(a[2],1494,a[0],{size:20.5,align:'left',color:'#333'});});

/* ---------- I ---------- */
T('Family',433,2001,{size:21,bold:true,align:'left',color:'#111'});T('Factor',520,2001,{size:21,bold:true,align:'left',color:'#111'});
const fcCol=scale([-1.56,-.5,.5,1.45],['#ffffff','#fcc5b3','#fb8469','#fb1a10']);
const gI=addGrid(294,2023.3,135.6,389,HID(-.5,3.5),HID(-.5,15.5,true));
const cellIdx=[];iFC.forEach((r,i)=>r.forEach((v,j)=>cellIdx.push([i,j])));
custom(gI,cellIdx.length,(k,api)=>{const [i,j]=cellIdx[k],p=api.coord([j,i]),s=api.size([1,1]);
  return {type:'rect',shape:{x:p[0]-s[0]/2,y:p[1]-s[1]/2,width:s[0],height:s[1]},style:{fill:iSig[i][j]?'#000':'#c9c9c9'}};},{z:2});
custom(gI,cellIdx.length,(k,api)=>{const [i,j]=cellIdx[k],p=api.coord([j,i]);
  return {type:'rect',shape:{x:p[0]-15,y:p[1]-9.2,width:30,height:18.4},style:{fill:fcCol(iFC[i][j])}};},{z:3});
dendro(229.6,2023.3,53.6,389,16,iDendro.map(d=>[d[0],d[1]+.5,d[2]+.5,d[3],d[4]]),1.1,'#333');
[[2025,72,'STAT',2060,24],[2097,25,'Zf',2111,24],[2122,72.4,'RHD',2157,24],[2194.4,215.6,'bZIP',2301,24]].forEach(a=>{R(433,a[0],72.6,a[1],null,'#444',1.2);T(a[2],469,a[3],{size:a[4],color:'#222'});});
iFactors.forEach((f,i)=>T(f,519,2037+i*24.34,{size:18,align:'left',color:'#222'}));
R(85.7,2107,22.3,24,'#c9c9c9');R(90,2113,13,12,'#333');
R(85.7,2137,22.3,23,'#000');R(90,2143,13,12,'#444');
T('FDR > 1',112,2120,{size:20,align:'left'});T('-5',184,2117,{size:12,align:'left'});
T('FDR < 1',112,2147,{size:20,align:'left'});T('-5',184,2144,{size:12,align:'left'});
T('Scaled FC',145.4,2193.7,{size:20,color:'#333'});
colorbar(114.8,2208.4,25,121.6,-1.56,1.42,['#fb1a10','#fb8469','#fcc5b3','#ffffff'],fcTicks,['1.0','0.5','0.0','-0.5','-1.0'],{size:20,inside:true,tcolor:'#fff',tlen:4,margin:20});
L(114.8,2330,139.8,2330,'#f2668a',1.5);
T('C1',344.4,2427,{size:20});T('C2',378.6,2427,{size:20});T('C3',412.2,2427,{size:20});
T('Hypo-',263.8,2427,{size:21,align:'left',color:PINK});T('CpGs',263.8,2455,{size:21,align:'left',color:PINK});

/* ---------- J ---------- */
T('Ø',1026,2000,{size:24,rot:45,italic:true});T('LPS',1082,2001,{size:25,rot:45});
blotNames.forEach((n,i)=>{blot(1002,blotTops[i],97.7,49,'#cfcae5',blotBands[i]);
  T(n,928.7,blotTops[i]+25,{size:24,color:'#111'});});
blot(1320.8,2039,225,43,'#4b4e55',blot6,'#333');
blot(1320.8,2095.8,225,43.2,'#6f7676',blotLam,'#333');
T('p-STAT6',1251.5,2066,{size:24,color:'#111'});T('LaminB',1251.5,2121.6,{size:24,color:'#111'});
[['MO',1348.6,2003],['Ø',1390,2014],['LPS',1437,2001],['Control -',1500,1983],['Control +',1553.4,1983]].forEach(a=>T(a[0],a[1],a[2],{size:26,rot:45,italic:a[0]=='Ø',color:'#222'}));
const gJ=addGrid(1233.8,2193.3,308.5,206.1,
 {type:'category',data:pCats,axisLine:{show:true,lineStyle:{color:'#444',width:1.2}},axisTick:{show:false},axisLabel:{interval:0,fontFamily:FF,fontSize:18,color:'#555',margin:9}},
 Object.assign(VAX(0,2.5,pTicks,['0.0','0.5','1.0','1.5','2.0','2.5'],14,{tlen:6,margin:3,color:'#555'}),{axisLine:{show:true,lineStyle:{color:'#444',width:1.2}}}));
series.push({type:'bar',xAxisIndex:gJ,yAxisIndex:gJ,data:pNT,barWidth:34.4,barGap:'50%',animation:false,silent:true,itemStyle:{color:'#868686',borderColor:'#444',borderWidth:.8}});
series.push({type:'bar',xAxisIndex:gJ,yAxisIndex:gJ,data:pLPS,barWidth:34.4,barGap:'50%',animation:false,silent:true,itemStyle:{color:'#c9657c',borderColor:'#444',borderWidth:.8}});
custom(gJ,6,(k,api)=>{const c=Math.floor(k/2),lps=k%2,off=lps?25.8:-25.8,v=lps?pLPS[c]:pNT[c],t=lps?pLPStop[c]:pNTtop[c];
  const a=api.coord([c,v]),b=api.coord([c,t]),z=api.coord([c,0]),x=a[0]+off;
  return {type:'group',children:[
   {type:'line',shape:{x1:x,y1:a[1],x2:x,y2:b[1]},style:{stroke:'#555',lineWidth:1.3}},
   {type:'line',shape:{x1:x-9,y1:b[1],x2:x+9,y2:b[1]},style:{stroke:'#555',lineWidth:1.3}},
   {type:'line',shape:{x1:x,y1:z[1],x2:x,y2:z[1]+5},style:{stroke:'#444',lineWidth:1.2}}]};},{z:4});
custom(gJ,3,(c,api)=>{const p=api.coord([c,sigLevel[c]]);
  return {type:'group',children:[
   {type:'line',shape:{x1:p[0]-27.5,y1:p[1],x2:p[0]+15.5,y2:p[1]},style:{stroke:'#555',lineWidth:1.1}},
   {type:'text',style:{text:sigText[c],x:p[0]-6,y:p[1]-7,font:'bold 15px '+FF,fill:'#222',align:'center',textAlign:'center',verticalAlign:'middle',textVerticalAlign:'middle'}}]};},{z:4});
T('pSTAT/LaminB',1186.7,2294,{rot:90,size:24,color:'#333'});
R(1486,2186,17,10.5,'#868686');T('Ø',1512,2188,{size:18,align:'left',italic:true});
R(1486,2207.5,17,10.5,'#c9657c');T('LPS',1512,2213,{size:20,align:'left'});

/* ---------- render ---------- */
const chart=echarts.init(document.getElementById('c'),null,{renderer:'canvas',width:1613,height:2477});
chart.setOption({animation:false,backgroundColor:'#fff',tooltip:{show:false},legend:{show:false},
  grid:grids,xAxis:xAxes,yAxis:yAxes,series,visualMap:vmaps,graphic:{elements:gfx}});
</script></body></html>
